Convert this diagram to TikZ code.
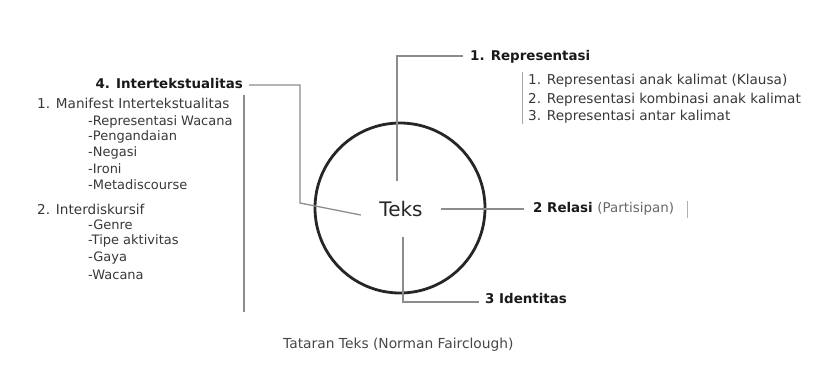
\documentclass[tikz,border=0pt]{standalone}
\usepackage{fontspec}
\newfontfamily\dv{DejaVu Sans}
\begin{document}
\begin{tikzpicture}[x=1pt,y=-1pt,
  conn/.style={draw=black!45,line width=1.3pt},
  head/.style={anchor=west,inner sep=0pt,font=\dv\bfseries\fontsize{13.4}{15}\selectfont,text=black!90},
  item/.style={anchor=west,inner sep=0pt,font=\dv\fontsize{13.6}{15}\selectfont,text=black!78},
  sub/.style={anchor=west,inner sep=0pt,font=\dv\fontsize{13}{15}\selectfont,text=black!78}]
\useasboundingbox (0,0) rectangle (827,378);
% circle and centre text
\node[circle,draw=black!85,line width=2.8pt,minimum size=170pt,inner sep=0pt] (circ) at (400,208) {};
\node[minimum width=80pt,minimum height=55pt,inner sep=0pt,font=\dv\fontsize{20}{22}\selectfont,text=black!85] (teks) at (401,209) {Teks};
% 1. Representasi
\node[head] (rep) at (470,57) {1. Representasi};
\coordinate (repc) at (397,56);
\draw[conn] ([xshift=-4pt]teks.north) -- (repc) -- ([xshift=-7pt]rep.west |- repc);
\node[item] (r1) at (528,81) {1. Representasi anak kalimat (Klausa)};
\node[item] (r2) at (528,100) {2. Representasi kombinasi anak kalimat};
\node[item] (r3) at (528,117) {3. Representasi antar kalimat};
\coordinate (rbt) at (522,72);
\coordinate (rbb) at (522,124);
\draw[draw=black!35,line width=1pt] (rbt) -- (rbb);
% 2 Relasi
\node[head] (rel) at (533,209) {2 Relasi \textmd{\textcolor{black!60}{(Partisipan)}}};
\draw[conn] (teks.east) -- ([xshift=-9pt]rel.west);
\coordinate (relbt) at (687,201);
\coordinate (relbb) at (687,218);
\draw[draw=black!30,line width=1pt] (relbt) -- (relbb);
% 3 Identitas
\node[head] (ide) at (485,298) {3 Identitas};
\coordinate (idc) at (403,302);
\draw[conn] ([xshift=2pt]teks.south) -- (idc) -- ([xshift=-6pt]ide.west |- idc);
% 4. Intertekstualitas
\node[head,anchor=east] (int) at (243,84) {4. Intertekstualitas};
\coordinate (ic1) at (300,203);
\coordinate (ic2) at (300,85);
\draw[conn] ([yshift=-6pt]teks.west) -- (ic1) -- (ic2) -- ([xshift=6pt]int.east |- ic2);
\coordinate (ivt) at (244,95);
\coordinate (ivb) at (244,312);
\draw[conn] (ivt) -- (ivb);
\node[item] (m1) at (37,103) {1. Manifest Intertekstualitas};
\node[sub] (m1a) at (88,122) {-Representasi Wacana};
\node[sub] (m1b) at (88,137) {-Pengandaian};
\node[sub] (m1c) at (88,153) {-Negasi};
\node[sub] (m1d) at (88,169) {-Ironi};
\node[sub] (m1e) at (88,185) {-Metadiscourse};
\node[item] (m2) at (37,209) {2. Interdiskursif};
\node[sub] (m2a) at (88,225) {-Genre};
\node[sub] (m2b) at (88,241) {-Tipe aktivitas};
\node[sub] (m2c) at (88,258) {-Gaya};
\node[sub] (m2d) at (88,275) {-Wacana};
% caption
\node[anchor=west,inner sep=0pt,font=\dv\fontsize{13.8}{15}\selectfont,text=black!72] (cap) at (283,345) {Tataran Teks (Norman Fairclough)};
\end{tikzpicture}
\end{document}
